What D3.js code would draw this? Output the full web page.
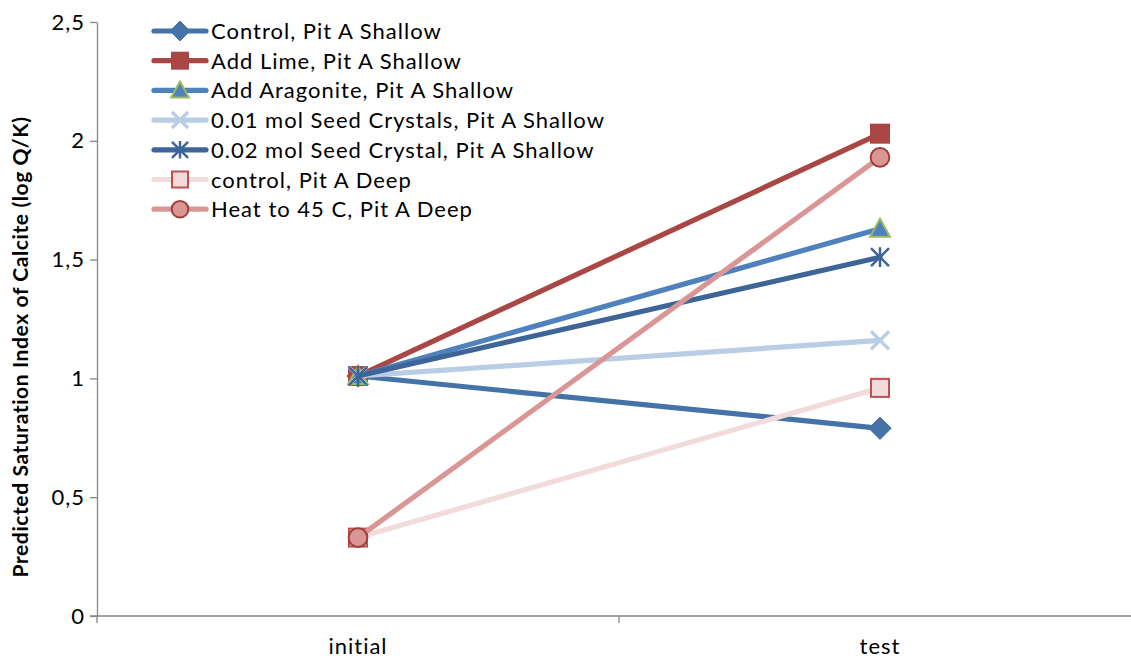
<!DOCTYPE html>
<html>
<head>
<meta charset="utf-8">
<script src="https://cdn.jsdelivr.net/npm/d3@7"></script>
<style>
  body { margin: 0; background: #fff; }
  text { font-family: Lato, "Open Sans", sans-serif; }
</style>
</head>
<body>
<div id="chart"></div>
<script>
// categories and series
const categories = ["initial", "test"];
const seriesNames = [
  "Control, Pit A Shallow",
  "Add Lime, Pit A Shallow",
  "Add Aragonite, Pit A Shallow",
  "0.01 mol Seed Crystals, Pit A Shallow",
  "0.02 mol Seed Crystal, Pit A Shallow",
  "control, Pit A Deep",
  "Heat to 45 C, Pit A Deep"
];
const initialValues = [1.01, 1.01, 1.01, 1.01, 1.01, 0.33, 0.33];
const testValues = [0.79, 2.03, 1.63, 1.16, 1.51, 0.96, 1.93];
const yTicks = [0, 0.5, 1, 1.5, 2, 2.5];

// styling per series
const lineColors = ["#4572A7", "#AA4643", "#4F81BD", "#B9CDE5", "#3D6598", "#F2DCDB", "#D99694"];
const markerFill = ["#4572A7", "#AA4643", "#4F81BD", "none", "none", "#F2DCDB", "#D99694"];
const markerStroke = ["#4572A7", "#AA4643", "#9BBB59", "#B9CDE5", "#3D6598", "#C0504D", "#A0403D"];
const markerType = ["diamond", "square", "triangle", "x", "star", "square", "circle"];

const width = 1131, height = 659;
const margin = {top: 22, right: 0, bottom: 43, left: 97};

const svg = d3.select("#chart").append("svg")
  .attr("width", width)
  .attr("height", height);

const xScale = d3.scaleBand()
  .domain(categories)
  .range([margin.left, margin.left + 2 * 522])
  .padding(0);

const yScale = d3.scaleLinear()
  .domain([0, 2.5])
  .range([height - margin.bottom, margin.top]);

const axisColor = "#868686";

// y axis
const yAxis = svg.append("g")
  .attr("transform", "translate(" + margin.left + ",0)")
  .call(d3.axisLeft(yScale).tickValues(yTicks).tickSize(7).tickSizeOuter(0)
    .tickFormat(d => String(d).replace(".", ",")));
yAxis.select(".domain").attr("stroke", axisColor).attr("stroke-width", 1.3);
yAxis.selectAll(".tick line").attr("stroke", axisColor).attr("stroke-width", 1.3);
yAxis.selectAll(".tick text")
  .attr("x", -12)
  .attr("font-size", 22)
  .attr("letter-spacing", 1)
  .attr("fill", "#000")
  .style("font-family", "Lato, 'Open Sans', sans-serif");

// x axis
const x0 = yScale(0);
svg.append("line")
  .attr("x1", margin.left - 7).attr("x2", width)
  .attr("y1", x0).attr("y2", x0)
  .attr("stroke", axisColor).attr("stroke-width", 1.3);
const xTickPos = [margin.left, margin.left + xScale.bandwidth(), margin.left + 2 * xScale.bandwidth()];
svg.selectAll(".xtick").data(xTickPos).enter().append("line")
  .attr("x1", d => d).attr("x2", d => d)
  .attr("y1", x0).attr("y2", x0 + 7)
  .attr("stroke", axisColor).attr("stroke-width", 1.3);
svg.selectAll(".xlabel").data(categories).enter().append("text")
  .attr("x", d => xScale(d) + xScale.bandwidth() / 2)
  .attr("y", 654)
  .attr("text-anchor", "middle")
  .attr("font-size", 22)
  .attr("letter-spacing", 1)
  .text(d => d);

// y title
svg.append("text")
  .attr("transform", "translate(28,347) rotate(-90)")
  .attr("text-anchor", "middle")
  .attr("font-size", 21)
  .attr("letter-spacing", 0.6)
  .attr("font-weight", "bold")
  .text("Predicted Saturation Index of Calcite (log Q/K)");

// marker drawing
function drawMarker(g, type, i, size) {
  const s = size;
  if (type === "diamond") {
    g.append("path").attr("d", `M0,${-s*0.62}L${s*0.62},0L0,${s*0.62}L${-s*0.62},0Z`)
      .attr("fill", markerFill[i]).attr("stroke", markerStroke[i]).attr("stroke-width", 1);
  } else if (type === "square") {
    g.append("rect").attr("x", -s/2).attr("y", -s/2).attr("width", s).attr("height", s)
      .attr("fill", markerFill[i]).attr("stroke", markerStroke[i]).attr("stroke-width", 2);
  } else if (type === "triangle") {
    g.append("path").attr("d", `M0,${-s*0.55}L${s*0.55},${s*0.45}L${-s*0.55},${s*0.45}Z`)
      .attr("fill", markerFill[i]).attr("stroke", markerStroke[i]).attr("stroke-width", 2);
  } else if (type === "x") {
    const h = s * 0.5;
    g.append("path").attr("d", `M${-h},${-h}L${h},${h}M${-h},${h}L${h},${-h}`)
      .attr("stroke", markerStroke[i]).attr("stroke-width", 3.5).attr("fill", "none");
  } else if (type === "star") {
    const h = s * 0.5;
    g.append("path").attr("d", `M${-h},${-h}L${h},${h}M${-h},${h}L${h},${-h}M0,${-h*1.1}L0,${h*1.1}`)
      .attr("stroke", markerStroke[i]).attr("stroke-width", 2.5).attr("fill", "none");
  } else if (type === "circle") {
    g.append("circle").attr("r", s * 0.52)
      .attr("fill", markerFill[i]).attr("stroke", markerStroke[i]).attr("stroke-width", 2);
  }
}

const cx = d => xScale(d) + xScale.bandwidth() / 2;

// lines and markers
seriesNames.forEach((name, i) => {
  const pts = [[cx("initial"), yScale(initialValues[i])], [cx("test"), yScale(testValues[i])]];
  svg.append("path")
    .attr("d", d3.line()(pts))
    .attr("fill", "none")
    .attr("stroke", lineColors[i])
    .attr("stroke-width", 5.2)
    .attr("stroke-linecap", "round");
  pts.forEach(p => {
    const g = svg.append("g").attr("transform", `translate(${p[0]},${p[1]})`);
    drawMarker(g, markerType[i], i, 18);
  });
});

// legend
const legend = svg.append("g");
seriesNames.forEach((name, i) => {
  const y = 31 + i * 29.7;
  legend.append("line")
    .attr("x1", 154).attr("x2", 206).attr("y1", y).attr("y2", y)
    .attr("stroke", lineColors[i]).attr("stroke-width", 5.2).attr("stroke-linecap", "round");
  const g = legend.append("g").attr("transform", `translate(180,${y})`);
  drawMarker(g, markerType[i], i, 16);
  legend.append("text")
    .attr("x", 211).attr("y", y + 8)
    .attr("font-size", 22)
    .attr("letter-spacing", 1)
    .text(name);
});
</script>
</body>
</html>
